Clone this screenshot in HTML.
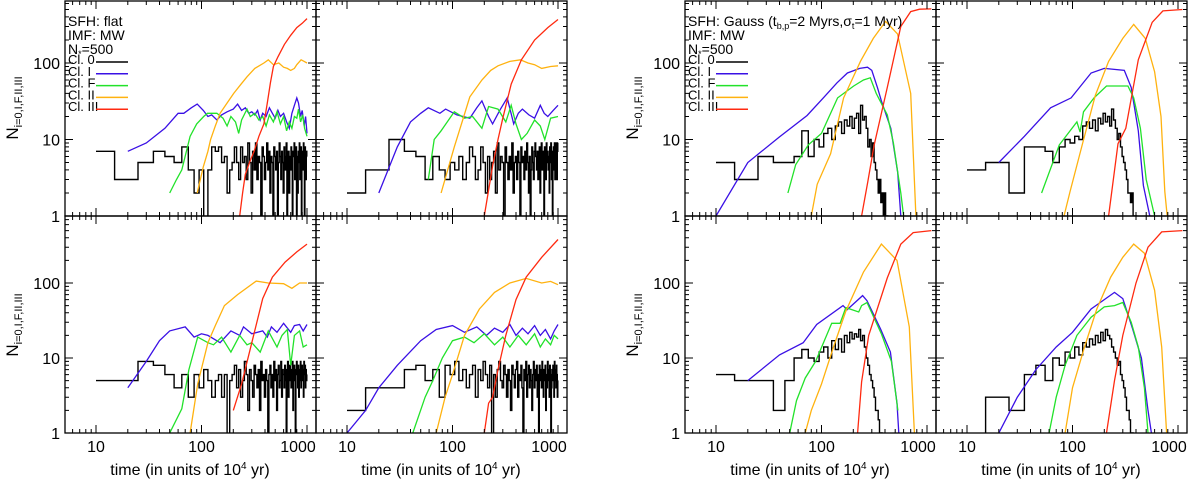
<!DOCTYPE html>
<html><head><meta charset="utf-8"><style>
html,body{margin:0;padding:0;background:#fff}
svg{display:block}
text{font-family:"Liberation Sans",sans-serif;fill:#000}
</style></head><body>
<svg id="fig" width="1200" height="484" viewBox="0 0 1200 484" xmlns="http://www.w3.org/2000/svg"></svg>
<script>
// ---------- data ----------
const xTickVals = [10, 100, 1000];
const xTickLabels = ["10", "100", "1000"];
const yTickVals = [1, 10, 100];
const yTickLabels = ["1", "10", "100"];
const legendLabels = ["Cl. 0", "Cl. I", "Cl. F", "Cl. II", "Cl. III"];

// Class 0 step histograms (bins centred at 10,20,...,1000)
const fTL_0 = [7,3,5,7,6,5,8,4,2,4, 0,4,8,7,8,5,6,2,4,5, 8,5,3,8,5,6,3,9,5,2, 7,4,9,3,6,5,0,8,6,3, 5,9,4,7,2,6,5,0,8,6, 4,7,1,5,9,6,3,7,5,2, 8,4,6,9,0,5,7,2,6,4, 8,5,1,7,6,9,3,5,8,0, 6,2,7,5,9,3,6,8,1,5, 7,4,9,6,0,8,5,3,7,6];
const fTR_0 = [2,4,10,7,6,3,6,4,3,5, 4,6,3,5,8,6,3,4,8,5, 2,6,3,5,7,2,9,4,6,5, 0,8,5,3,6,4,9,2,5,6, 3,7,5,1,8,5,6,3,7,4, 9,5,2,6,0,4,8,5,3,7, 9,6,4,7,3,5,8,2,6,9, 4,7,5,0,8,6,3,9,5,7, 4,6,2,8,5,9,3,7,0,6, 8,4,9,3,6,9,5,3,7,9];
const fBL_0 = [5,5,9,8,6,4,6,3,6,4, 7,5,3,5,6,3,6,0,5,6, 8,4,7,3,5,9,6,2,7,5, 3,8,6,4,7,2,9,5,6,3, 7,5,0,6,8,4,6,3,9,5, 7,2,6,8,4,5,9,3,7,6, 4,8,5,0,7,9,3,6,8,5, 4,7,9,2,6,8,5,0,7,9, 6,4,8,3,7,5,9,4,6,8, 5,7,3,9,6,8,4,7,5,6];
const fBR_0 = [2,4,4,7,8,5,7,3,8,6, 9,5,7,4,6,8,3,7,5,9, 6,4,8,0,6,3,7,9,5,4, 8,6,3,7,5,2,8,6,4,7, 9,3,6,5,8,4,0,7,5,9, 3,6,8,4,7,5,2,6,9,4, 7,5,8,3,6,0,8,5,7,4, 9,6,3,7,5,8,2,6,4,9, 5,7,3,8,6,0,4,7,5,8, 6,3,9,5,7,4,8,6,3,5];
const gTL_0 = [5,3,6,5,5,6,13,6,10,8, 12,14,10,15,17,12,18,15,20,14, 19,22,12,28,18,20,14,8,10,6, 9,5,4,3,2,3,1.5,2,1,2, 1,1,0,0,0,0,0,0,0,0];
const gTR_0 = [4,5,2,8,8,7,5,8,10,9, 11,10,15,17,14,18,13,19,16,22, 17,20,15,25,18,14,10,12,8,6, 5,4,3,2,2,1.5,2,1,1,1, 0,0,0,0,0,0,0,0,0,0];
const gBL_0 = [6,5,5,2,5,10,13,10,9,12, 14,10,17,13,18,12,20,16,22,18, 21,19,24,17,20,14,10,8,6,5, 4,3,2,2,1.5,1,1,0,0,0, 0,0,0,0,0,0,0,0,0,0];
const gBR_0 = [0,3,2,6,8,5,10,8,12,10, 14,11,16,14,18,15,20,16,22,17, 24,20,18,14,12,10,8,9,6,5, 4,3,2,2,1.5,1,1,0,0,0, 0,0,0,0,0,0,0,0,0,0];

// Class I, F, II, III curves ([time, N])
const fTL_I = [[20,7],[30,9],[45,14],[60,22],[68,22],[80,26],[91,29],[104,24],[115,20],[125,21],[140,18],[155,21],[175,23],[200,25],[220,29],[240,24],[260,26],[280,22],[300,23],[320,21],[340,24],[360,18],[380,22],[410,20],[440,26],[470,22],[500,19],[530,24],[560,20],[600,22],[640,17],[680,14],[720,22],[760,28],[800,35],[830,30],[870,20],[900,24],[940,15],[970,20],[1000,12]];
const fTL_F = [[50,2],[58,3],[65,4],[72,7],[78,11],[90,16],[105,20],[114,22],[140,22],[160,19],[175,15],[190,20],[210,17],[225,12],[240,18],[270,25],[290,20],[320,22],[350,18],[380,20],[410,15],[440,21],[480,17],[520,23],[560,16],[600,20],[640,13],[680,17],[720,14],[760,20],[800,19],[830,25],[870,17],[910,21],[950,14],[1000,11]];
const fTL_II = [[91,2],[104,4.4],[115,7],[122,10],[135,15],[150,22],[175,30],[202,40],[235,52],[270,66],[320,85],[390,100],[430,110],[480,95],[540,100],[600,88],[650,85],[700,80],[760,85],[800,95],[880,110],[940,105],[1000,100]];
const fTL_III = [[230,1],[245,2],[260,3.5],[285,5],[315,7],[350,11],[390,16],[420,30],[450,55],[480,90],[530,120],[610,175],[700,230],[800,290],[900,330],[1000,380]];

const fTR_I = [[20,2],[30,8],[40,17],[50,22],[59,26],[76,22],[86,25],[110,21],[146,19],[170,26],[190,32],[220,20],[240,16],[280,24],[330,35],[380,16],[420,22],[460,25],[530,21],[600,19],[680,28],[740,22],[800,20],[900,24],[1000,28]];
const fTR_F = [[59,3],[67,10],[78,13],[104,23],[130,19],[155,20],[190,14],[220,27],[270,25],[320,17],[360,28],[400,16],[450,10],[510,12],[600,18],[680,15],[750,10],[850,19],[1000,20]];
const fTR_II = [[78,2],[90,4],[104,8],[125,18],[146,36],[190,60],[230,80],[270,92],[350,105],[440,110],[520,100],[600,95],[700,85],[850,90],[1000,92]];
const fTR_III = [[200,1],[240,4.5],[270,10],[300,19],[360,53],[450,110],[600,200],[800,290],[1000,370]];

const fBL_I = [[20,4],[30,9],[40,17],[50,23],[70,26],[85,19],[100,21],[115,20],[150,16],[190,23],[230,20],[250,26],[300,21],[380,23],[420,19],[460,26],[520,22],[600,29],[700,22],[760,27],[850,28],[920,23],[1000,28]];
const fBL_F = [[50,1],[65,2.1],[76,7],[92,19],[115,16],[130,15],[155,19],[190,12],[230,20],[270,15],[300,16],[360,12],[430,23],[520,14],[580,20],[650,24],[700,8],[760,20],[850,23],[920,14],[1000,15]];
const fBL_II = [[78,1],[92,4.5],[115,16],[135,27],[165,50],[220,70],[330,106],[430,100],[600,98],[720,85],[850,100],[1000,100]];
const fBL_III = [[200,2],[240,4.5],[300,16],[380,62],[470,120],[620,190],[800,260],[1000,330]];

const fBR_I = [[10,1],[15,2],[20,4],[30,8],[50,17],[70,24],[100,27],[130,22],[170,26],[210,20],[250,25],[300,22],[350,28],[400,20],[460,25],[520,21],[600,27],[680,20],[760,24],[850,18],[920,23],[1000,28]];
const fBR_F = [[42,1],[55,3],[65,5],[80,10],[100,17],[130,19],[160,16],[200,21],[250,15],[300,19],[350,14],[420,20],[500,15],[600,21],[680,14],[760,18],[850,15],[920,20],[1000,18]];
const fBR_II = [[70,1],[85,3],[100,6],[130,20],[180,45],[250,75],[350,100],[500,115],[700,100],[850,105],[1000,95]];
const fBR_III = [[200,1],[220,2.5],[240,3],[270,7],[320,20],[400,60],[500,120],[700,220],[1000,380]];

const gTL_I = [[10,1],[20,5],[40,10.8],[73,20.6],[104,35],[140,55],[176,74],[230,85],[273,88],[300,80],[340,47],[370,32],[454,14],[528,3.7],[565,1]];
const gTL_F = [[48,2],[57,4.7],[75,8.5],[100,12],[142,35],[202,50],[250,60],[290,64],[330,40],[420,21],[480,9],[565,2],[600,1]];
const gTL_II = [[80,1],[91,2.6],[122,6.5],[162,35],[235,106],[310,210],[405,350],[525,240],[700,40],[785,1]];
const gTL_III = [[240,1],[275,2.8],[315,8.4],[420,48],[565,300],[700,470],[850,505],[1100,510]];

const gTR_I = [[20,5],[35,11],[62,26],[97,35],[150,74],[200,85],[310,80],[360,48],[420,13],[470,2.5],[540,1]];
const gTR_F = [[51,2],[75,8.5],[110,17],[118,12.5],[127,23],[160,35],[210,50],[335,50],[380,35],[440,14],[500,3],[600,1]];
const gTR_II = [[83,1],[95,2.1],[125,9],[165,38],[220,105],[300,210],[380,320],[490,210],[600,77],[690,20],[750,2.1],[790,1]];
const gTR_III = [[220,1],[270,8.8],[320,14],[420,110],[570,340],[720,480],[1100,500]];

const gBL_I = [[20,5],[40,11],[67,16],[90,28],[160,50],[175,44],[245,68],[270,58],[365,24],[450,12],[520,2.5],[540,1]];
const gBL_F = [[50,1],[58,2.7],[70,5.4],[88,9],[125,29],[150,29],[170,47],[225,41],[240,50],[270,55],[370,21],[460,9],[530,2]];
const gBL_II = [[70,1],[80,2],[100,4.5],[130,14],[170,42],[250,140],[370,330],[520,200],[680,26],[760,1]];
const gBL_III = [[220,1],[240,4.8],[280,20],[420,117],[565,330],[740,470],[1100,500]];

const gBR_I = [[20,1],[30,3],[45,7],[70,14],[100,22],[150,45],[200,60],[250,75],[300,62],[370,25],[450,10],[520,2],[560,1]];
const gBR_F = [[60,1],[70,3],[85,8],[110,20],[150,35],[200,48],[250,50],[300,55],[360,30],[420,14],[480,4],[520,1]];
const gBR_II = [[85,1],[100,4],[130,14],[170,45],[230,120],[300,220],[380,330],[480,250],[600,80],[700,14],[780,1]];
const gBR_III = [[210,1],[250,5],[300,20],[400,100],[520,300],[700,480],[1100,500]];

// ---------- drawing ----------
const NS = "http://www.w3.org/2000/svg";
const svg = document.getElementById('fig');
const colors = ["#000000", "#3a10e5", "#22e22a", "#ffb20f", "#ff2a10"];
function mk(tag, attrs, parent) {
  const e = document.createElementNS(NS, tag);
  for (const k in attrs) e.setAttribute(k, attrs[k]);
  (parent || svg).appendChild(e);
  return e;
}
const DEC_X = 105.5;
let clipId = 0;

function drawPanel(px, top, bottom, decY, series, opts) {
  const g = mk('g', {});
  
  
  const W = 251;
  const X = t => px + 31 + (Math.log10(t) - 1) * DEC_X;
  const Y = n => n > 0 ? bottom - Math.log10(n) * decY : bottom + 10;
  const cid = 'c' + (clipId++);
  const cp = mk('clipPath', { id: cid }, g);
  mk('rect', { x: px, y: top, width: W, height: bottom - top }, cp);
  const dg = mk('g', { 'clip-path': 'url(#' + cid + ')' }, g);
  // black step histogram
  const h = series[0];
  let d = '';
  for (let i = 0; i < h.length; i++) {
    const c = 10 * (i + 1);
    const lo = i === 0 ? 10 : c - 5, hi = c + 5;
    const y = Y(h[i]).toFixed(1);
    d += (i === 0 ? 'M' + X(lo).toFixed(1) + ',' + y : 'L' + X(lo).toFixed(1) + ',' + y) + 'L' + X(hi).toFixed(1) + ',' + y;
  }
  const p0 = mk('path', { d: d, fill: 'none', stroke: colors[0], 'stroke-width': 1.4 }, dg);
  
  
  const names = ['class-I-line', 'class-F-line', 'class-II-line', 'class-III-line'];
  for (let s = 1; s < 5; s++) {
    const pts = series[s].map(p => X(p[0]).toFixed(1) + ',' + Y(p[1]).toFixed(1)).join(' ');
    const pl = mk('polyline', { points: pts, fill: 'none', stroke: colors[s], 'stroke-width': 1.3 }, dg);
    
    
  }
  // frame
  mk('rect', { x: px, y: top, width: W, height: bottom - top, fill: 'none', stroke: '#000', 'stroke-width': 1.3 }, g);
  // ticks
  let td = '';
  for (let e = 0; e <= 3; e++) for (let m = 1; m <= 9; m++) {
    const t = m * Math.pow(10, e);
    const x = X(t);
    if (x < px + 1 || x > px + W - 1) continue;
    const L = m === 1 ? 8 : 4;
    td += 'M' + x.toFixed(1) + ',' + bottom + 'v' + (-L) + 'M' + x.toFixed(1) + ',' + top + 'v' + L;
  }
  for (let e = 0; e <= 2; e++) for (let m = 1; m <= 9; m++) {
    const n = m * Math.pow(10, e);
    const y = Y(n);
    if (y < top + 1 || y > bottom) continue;
    const L = m === 1 ? 8 : 4;
    td += 'M' + px + ',' + y.toFixed(1) + 'h' + L + 'M' + (px + W) + ',' + y.toFixed(1) + 'h' + (-L);
  }
  mk('path', { d: td, stroke: '#000', 'stroke-width': 1, fill: 'none' }, g);
  if (opts.yLabels) {
    for (let i = 0; i < yTickVals.length; i++) {
      const t = mk('text', { x: px - 5, y: Y(yTickVals[i]) + 6, 'text-anchor': 'end', 'font-size': 16 }, g);
      t.textContent = yTickLabels[i];
      
      
    }
  }
  if (opts.xLabels) {
    for (let i = 0; i < xTickVals.length; i++) {
      const t = mk('text', { x: Math.min(X(xTickVals[i]), px + W - 18), y: bottom + 19, 'text-anchor': 'middle', 'font-size': 16 }, g);
      t.textContent = xTickLabels[i];
      
      
    }
    const xt = mk('text', { x: px + 125, y: bottom + 42, 'text-anchor': 'middle', 'font-size': 16 }, g);
    xt.innerHTML = 'time (in units of 10<tspan dy="-6" font-size="10">4</tspan><tspan dy="6"> yr)</tspan>';
    
    
  }
  if (opts.legend) {
    const lg = mk('g', {}, g);
    
    
    const hdr = mk('text', { x: px + 3, y: 26, 'font-size': 14 }, lg);
    hdr.innerHTML = opts.legend;
    const imf = mk('text', { x: px + 3, y: 40, 'font-size': 14 }, lg);
    imf.textContent = 'IMF: MW';
    const nn = mk('text', { x: px + 3, y: 54, 'font-size': 14 }, lg);
    nn.innerHTML = 'N<tspan dy="3" font-size="9">*</tspan><tspan dy="-3">=500</tspan>';
    for (let i = 0; i < 5; i++) {
      const yy = 62 + i * 11.8;
      const lt = mk('text', { x: px + 3, y: yy + 2, 'font-size': 13 }, lg);
      lt.textContent = legendLabels[i];
      
      
      mk('line', { x1: px + 31, x2: px + 63, y1: yy, y2: yy, stroke: colors[i], 'stroke-width': 1.5 }, lg);
    }
  }
}

function yTitle(x, y) {
  const t = mk('text', { x: 0, y: 0, 'font-size': 17, transform: 'translate(' + x + ',' + y + ') rotate(-90)', 'text-anchor': 'middle' });
  t.innerHTML = 'N<tspan dy="4" font-size="11">i=0,I,F,II,III</tspan>';
  
  
}

const R1T = 1, R1B = 216, R2T = 216, R2B = 433, D1 = 76.5, D2 = 75;
const flatHdr = 'SFH: flat';
const gaussHdr = 'SFH: Gauss (t<tspan dy="3" font-size="9">b,p</tspan><tspan dy="-3">=2 Myrs,σ</tspan><tspan dy="3" font-size="9">t</tspan><tspan dy="-3">=1 Myr)</tspan>';

drawPanel(65, R1T, R1B, D1, [fTL_0, fTL_I, fTL_F, fTL_II, fTL_III], { name: 'flat-panel-top-left', yLabels: true, legend: flatHdr });
drawPanel(316, R1T, R1B, D1, [fTR_0, fTR_I, fTR_F, fTR_II, fTR_III], { name: 'flat-panel-top-right' });
drawPanel(65, R2T, R2B, D2, [fBL_0, fBL_I, fBL_F, fBL_II, fBL_III], { name: 'flat-panel-bottom-left', yLabels: true, xLabels: true });
drawPanel(316, R2T, R2B, D2, [fBR_0, fBR_I, fBR_F, fBR_II, fBR_III], { name: 'flat-panel-bottom-right', xLabels: true });
drawPanel(685, R1T, R1B, D1, [gTL_0, gTL_I, gTL_F, gTL_II, gTL_III], { name: 'gauss-panel-top-left', yLabels: true, legend: gaussHdr });
drawPanel(936, R1T, R1B, D1, [gTR_0, gTR_I, gTR_F, gTR_II, gTR_III], { name: 'gauss-panel-top-right' });
drawPanel(685, R2T, R2B, D2, [gBL_0, gBL_I, gBL_F, gBL_II, gBL_III], { name: 'gauss-panel-bottom-left', yLabels: true, xLabels: true });
drawPanel(936, R2T, R2B, D2, [gBR_0, gBR_I, gBR_F, gBR_II, gBR_III], { name: 'gauss-panel-bottom-right', xLabels: true });
yTitle(18, 108); yTitle(18, 325); yTitle(638, 108); yTitle(638, 325);
</script>
</body></html>
